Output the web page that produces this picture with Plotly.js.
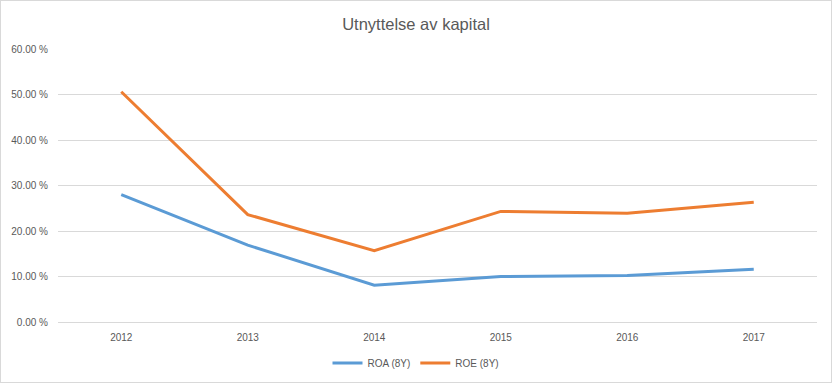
<!DOCTYPE html>
<html>
<head>
<meta charset="utf-8">
<script src="https://cdn.plot.ly/plotly-3.0.1.min.js"></script>
<style>
html,body{margin:0;padding:0;background:#fff;}
#chart{width:832px;height:383px;box-sizing:border-box;border:1px solid #d9d9d9;}
</style>
</head>
<body>
<div id="chart"></div>
<script>
const years = ['2012','2013','2014','2015','2016','2017'];
const roa = [28.0, 16.9, 8.1, 10.0, 10.2, 11.6];
const roe = [50.6, 23.6, 15.7, 24.3, 23.9, 26.3];
const seriesNames = ['ROA (8Y)', 'ROE (8Y)'];
const titleText = 'Utnyttelse av kapital';

const fontFam = '"Liberation Sans", Arial, sans-serif';

const traces = [
  {x: years, y: roa, name: seriesNames[0], type: 'scatter', mode: 'lines',
   line: {color: '#5B9BD5', width: 3}},
  {x: years, y: roe, name: seriesNames[1], type: 'scatter', mode: 'lines',
   line: {color: '#ED7D31', width: 3}}
];

const layout = {
  width: 830, height: 381,
  paper_bgcolor: '#fff', plot_bgcolor: '#fff',
  margin: {l: 57, r: 14, t: 48, b: 60},
  font: {family: fontFam, color: '#595959', size: 10},
  title: {text: titleText, x: 0.5, xanchor: 'center', y: 0.94, yanchor: 'middle',
          font: {family: fontFam, size: 16.5, color: '#595959'}},
  xaxis: {type: 'category', range: [-0.5, 5.5], showgrid: false, zeroline: false,
          showline: false, ticks: '', ticklabelstandoff: 8,
          tickfont: {size: 10, color: '#595959'}},
  yaxis: {range: [0, 60], dtick: 10, tickformat: '.2f', ticksuffix: ' %',
          showgrid: true, gridcolor: '#d9d9d9', gridwidth: 1, zeroline: true,
          zerolinecolor: '#d9d9d9', zerolinewidth: 1, showline: false, ticks: '',
          ticklabelstandoff: 9,
          tickfont: {size: 10, color: '#595959'}, fixedrange: true},
  showlegend: true,
  legend: {orientation: 'h', xref: 'container', yref: 'container',
           x: 0.5, xanchor: 'center', y: 0.05, yanchor: 'middle',
           font: {size: 10, color: '#595959'}, itemwidth: 30}
};

Plotly.newPlot('chart', traces, layout, {displayModeBar: false, staticPlot: true});
</script>
</body>
</html>
